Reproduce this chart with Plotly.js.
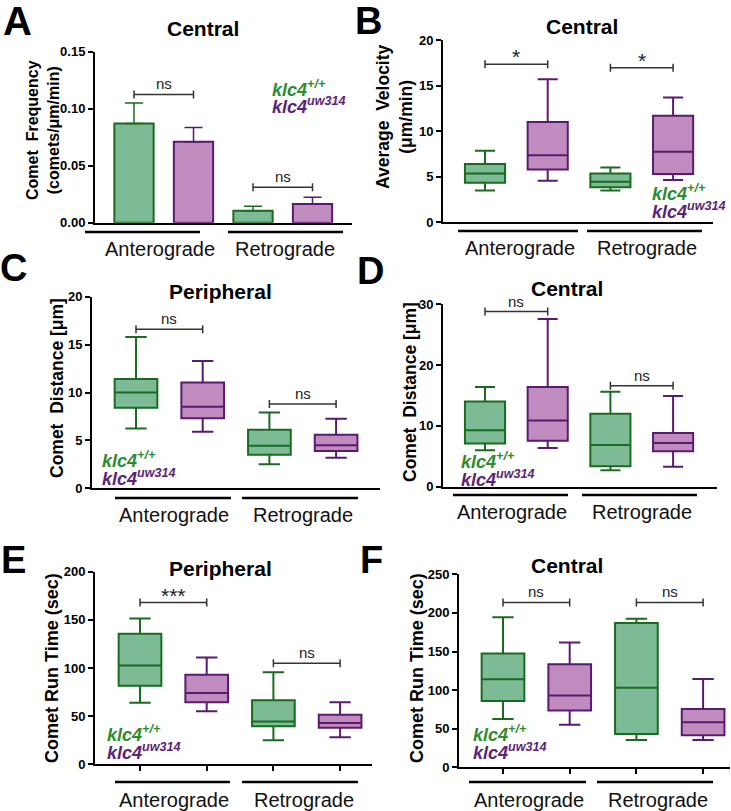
<!DOCTYPE html>
<html lang="en">
<head>
<meta charset="UTF-8">
<title>klc4 comet analysis</title>
<script src="https://cdn.plot.ly/plotly-3.0.1.min.js"></script>
<style>
  body { margin: 0; background: #fff; }
  #fig { width: 731px; height: 811px; }
</style>
</head>
<body>
<div id="fig"></div>
<script>
const W = 731, H = 811;
const FONT = 'Liberation Sans, Arial, Helvetica, sans-serif';
const GREEN = '#1a6b1f', GREEN_FILL = '#7dba96';
const PURPLE = '#5b1a6e', PURPLE_FILL = '#c08bbf';
const LEG_GREEN = '#2e8b2e', LEG_PURPLE = '#5c2474';

const groups = ['Anterograde', 'Retrograde'];
const wtPos = [0, 2];
const mutPos = [1, 3];

// A: central comet frequency, mean and SEM (anterograde, retrograde)
const freqWT = [0.087, 0.0105];
const freqWTsem = [0.018, 0.004];
const freqMut = [0.071, 0.0165];
const freqMutSem = [0.0125, 0.0058];

// box stats [min, q1, median, q3, max] for anterograde / retrograde
const velWT = [[3.5, 4.35, 5.35, 6.4, 7.85], [3.5, 3.85, 4.45, 5.35, 6.0]];
const velMut = [[4.55, 5.8, 7.35, 11.0, 15.7], [4.65, 5.3, 7.75, 11.7, 13.7]];

const distPeriWT = [[6.25, 8.4, 10.0, 11.4, 15.8], [2.5, 3.5, 4.45, 6.1, 7.9]];
const distPeriMut = [[5.9, 7.3, 8.5, 11.05, 13.3], [3.2, 3.9, 4.5, 5.6, 7.25]];

const distCentWT = [[6.0, 7.1, 9.3, 14.0, 16.4], [2.7, 3.35, 6.85, 12.0, 15.6]];
const distCentMut = [[6.35, 7.55, 10.9, 16.4, 27.6], [3.3, 5.85, 7.2, 8.85, 14.9]];

const runPeriWT = [[64, 81.5, 102.5, 135.5, 151.5], [25, 39.5, 44.5, 66.5, 95.5]];
const runPeriMut = [[55, 64.5, 74, 93, 111], [28, 38, 43, 51.5, 64.5]];

const runCentWT = [[62.5, 86, 114, 147.5, 194.5], [35.5, 43, 103, 187, 192.5]];
const runCentMut = [[55, 73.5, 93, 133.5, 161.5], [35.5, 41.5, 58.5, 75.5, 114.5]];

// significance brackets [from, to, height, label]
const sigA = [[0, 1, 0.1125, 'ns'], [2, 3, 0.031, 'ns']];
const sigB = [[0, 1, 17.35, '*'], [2, 3, 16.95, '*']];
const sigC = [[0, 1, 16.6, 'ns'], [2, 3, 8.8, 'ns']];
const sigD = [[0, 1, 28.8, 'ns'], [2, 3, 16.6, 'ns']];
const sigE = [[0, 1, 168, '***'], [2, 3, 105, 'ns']];
const sigF = [[0, 1, 213.5, 'ns'], [2, 3, 213.5, 'ns']];

// panel placement in pixels
const panels = [
  {letter: 'A', lx: 17, ly: 21, lsize: 40, title: 'Central', tx: 203, ty: 28,
   L: 95, R: 352, top: 51.7, bot: 222.7, c0: 134, s: 59.5, ymax: 0.15, dtick: 0.05, fmt: '.2f',
   ytitle: 'Comet  Frequency<br>(comets/μm/min)', ytx: 43, yty: 130, ytsize: 16,
   legx: 270, legy: 88, sig: sigA, xticks: false,
   lines: [[85, 200], [228, 343]], liney: 232, labs: [160, 285], laby: 249},
  {letter: 'B', lx: 368, ly: 21, lsize: 38, title: 'Central', tx: 582, ty: 27,
   L: 443, R: 713, top: 40, bot: 222.3, c0: 485, s: 62.7, ymax: 20, dtick: 5, fmt: '',
   ytitle: 'Average  Velocity<br>(μm/min)', ytx: 395, yty: 117, ytsize: 17.5,
   legx: 650, legy: 192, sig: sigB, xticks: false,
   lines: [[458, 578], [587, 702]], liney: 231, labs: [520, 647], laby: 248},
  {letter: 'C', lx: 13, ly: 268, lsize: 38, title: 'Peripheral', tx: 220, ty: 292,
   L: 92, R: 380, top: 296.7, bot: 488.3, c0: 136, s: 66.7, ymax: 20, dtick: 5, fmt: '',
   ytitle: 'Comet  Distance [μm]', ytx: 57, yty: 388, ytsize: 17.5,
   legx: 100, legy: 459, sig: sigC, xticks: false,
   lines: [[115, 231], [242, 358]], liney: 498, labs: [174, 303], laby: 515},
  {letter: 'D', lx: 370, ly: 271, lsize: 38, title: 'Central', tx: 567, ty: 288,
   L: 443, R: 717, top: 304.3, bot: 486.7, c0: 485, s: 62.7, ymax: 30, dtick: 10, fmt: '',
   ytitle: 'Comet  Distance [μm]', ytx: 410, yty: 392, ytsize: 17.5,
   legx: 459, legy: 460, sig: sigD, xticks: false,
   lines: [[453, 568], [582, 697]], liney: 495, labs: [512, 642], laby: 512},
  {letter: 'E', lx: 13, ly: 560, lsize: 38, title: 'Peripheral', tx: 220, ty: 568,
   L: 95, R: 372, top: 571.7, bot: 764.3, c0: 140, s: 66.7, ymax: 200, dtick: 50, fmt: '',
   ytitle: 'Comet Run Time (sec)', ytx: 52, yty: 668, ytsize: 18,
   legx: 105, legy: 733, sig: sigE, xticks: true,
   lines: [[115, 230], [242, 358]], liney: 782, labs: [174, 304], laby: 800},
  {letter: 'F', lx: 371, ly: 560, lsize: 38, title: 'Central', tx: 567, ty: 565,
   L: 459, R: 730, top: 574.3, bot: 767.3, c0: 503, s: 66.7, ymax: 250, dtick: 50, fmt: '',
   ytitle: 'Comet Run Time (sec)', ytx: 417, yty: 668, ytsize: 18,
   legx: 471, legy: 733, sig: sigF, xticks: true,
   lines: [[469, 586], [597, 713]], liney: 782, labs: [529, 658], laby: 800}
];

const boxSets = [null, [velWT, velMut], [distPeriWT, distPeriMut],
  [distCentWT, distCentMut], [runPeriWT, runPeriMut], [runCentWT, runCentMut]];

const px = x => x / W;
const py = y => 1 - y / H;

function boxTrace(stats, pos, line, fill, n) {
  return {
    type: 'box', x: pos,
    lowerfence: stats.map(d => d[0]), q1: stats.map(d => d[1]),
    median: stats.map(d => d[2]), q3: stats.map(d => d[3]),
    upperfence: stats.map(d => d[4]),
    width: 0.64, whiskerwidth: 0.5, boxpoints: false,
    line: {color: line, width: 2}, fillcolor: fill,
    xaxis: 'x' + n, yaxis: 'y' + n, showlegend: false, hoverinfo: 'skip'
  };
}

const data = [];
const layout = {
  width: W, height: H, margin: {l: 0, r: 0, t: 0, b: 0},
  paper_bgcolor: '#fff', plot_bgcolor: 'rgba(0,0,0,0)',
  barmode: 'overlay', showlegend: false,
  font: {family: FONT, color: '#000'},
  annotations: [], shapes: []
};

// panel A bars
data.push({
  type: 'bar', x: wtPos, y: freqWT, width: 0.66,
  marker: {color: GREEN_FILL, line: {color: GREEN, width: 2}},
  error_y: {type: 'data', symmetric: false, array: freqWTsem, arrayminus: [0, 0],
            color: GREEN, thickness: 1.5, width: 9},
  xaxis: 'x', yaxis: 'y', hoverinfo: 'skip'
});
data.push({
  type: 'bar', x: mutPos, y: freqMut, width: 0.66,
  marker: {color: PURPLE_FILL, line: {color: PURPLE, width: 2}},
  error_y: {type: 'data', symmetric: false, array: freqMutSem, arrayminus: [0, 0],
            color: PURPLE, thickness: 1.5, width: 9},
  xaxis: 'x', yaxis: 'y', hoverinfo: 'skip'
});

panels.forEach((p, i) => {
  const n = i === 0 ? '' : String(i + 1);
  const xa = 'xaxis' + n, ya = 'yaxis' + n;
  const xr = 'x' + n, yr = 'y' + n;

  if (boxSets[i]) {
    data.push(boxTrace(boxSets[i][0], wtPos, GREEN, GREEN_FILL, n));
    data.push(boxTrace(boxSets[i][1], mutPos, PURPLE, PURPLE_FILL, n));
  }

  layout[xa] = {
    domain: [px(p.L), px(p.R)], anchor: yr,
    range: [(p.L - p.c0) / p.s, (p.R - p.c0) / p.s],
    showline: true, linecolor: '#000', linewidth: 2,
    showgrid: false, zeroline: false, showticklabels: false,
    ticks: p.xticks ? 'outside' : '', tickvals: [0, 1, 2, 3],
    ticklen: 5, tickwidth: 2, tickcolor: '#000', fixedrange: true
  };
  layout[ya] = {
    domain: [py(p.bot), py(p.top)], anchor: xr,
    range: [0, p.ymax], dtick: p.dtick, tick0: 0, tickformat: p.fmt,
    showline: true, linecolor: '#000', linewidth: 2,
    showgrid: false, zeroline: false,
    ticks: 'outside', ticklen: 5, tickwidth: 2, tickcolor: '#000',
    tickfont: {family: FONT, size: 13, color: '#000', weight: 'bold'},
    fixedrange: true
  };

  const A = layout.annotations, S = layout.shapes;
  // panel letter
  A.push({text: '<b>' + p.letter + '</b>', xref: 'paper', yref: 'paper',
    x: px(p.lx), y: py(p.ly), xanchor: 'center', yanchor: 'middle',
    showarrow: false, font: {family: FONT, size: p.lsize, color: '#000'}});
  // panel title
  A.push({text: '<b>' + p.title + '</b>', xref: 'paper', yref: 'paper',
    x: px(p.tx), y: py(p.ty), xanchor: 'center', yanchor: 'middle',
    showarrow: false, font: {family: FONT, size: 21, color: '#000'}});
  // y-axis title
  A.push({text: '<b>' + p.ytitle + '</b>', xref: 'paper', yref: 'paper',
    x: px(p.ytx), y: py(p.yty), xanchor: 'center', yanchor: 'middle',
    textangle: -90, showarrow: false,
    font: {family: FONT, size: p.ytsize, color: '#000'}});
  // genotype key
  A.push({text: '<b><i>klc4<sup>+/+</sup></i></b>', xref: 'paper', yref: 'paper',
    x: px(p.legx), y: py(p.legy), xanchor: 'left', yanchor: 'middle',
    showarrow: false, font: {family: FONT, size: 18, color: LEG_GREEN}});
  A.push({text: '<b><i>klc4<sup>uw314</sup></i></b>', xref: 'paper', yref: 'paper',
    x: px(p.legx), y: py(p.legy + 18), xanchor: 'left', yanchor: 'middle',
    showarrow: false, font: {family: FONT, size: 18, color: LEG_PURPLE}});
  // direction group labels and underlines
  groups.forEach((g, k) => {
    S.push({type: 'line', xref: 'paper', yref: 'paper',
      x0: px(p.lines[k][0]), x1: px(p.lines[k][1]), y0: py(p.liney), y1: py(p.liney),
      line: {color: '#000', width: 2.5}});
    A.push({text: g, xref: 'paper', yref: 'paper',
      x: px(p.labs[k]), y: py(p.laby), xanchor: 'center', yanchor: 'middle',
      showarrow: false, font: {family: FONT, size: 20, color: '#111'}});
  });
  // significance brackets
  p.sig.forEach(b => {
    const [x0, x1, y, lab] = b;
    S.push({type: 'line', xref: xr, yref: yr, x0: x0, x1: x1, y0: y, y1: y,
      line: {color: '#333', width: 1.5}});
    [x0, x1].forEach(xe => S.push({type: 'line', xref: xr, yref: yr,
      x0: xe, x1: xe, ysizemode: 'pixel', yanchor: y, y0: -4, y1: 4,
      line: {color: '#333', width: 1.5}}));
    A.push({text: lab, xref: xr, yref: yr, x: (x0 + x1) / 2, y: y,
      xanchor: 'center', yanchor: 'bottom', yshift: lab === 'ns' ? 0 : -6,
      showarrow: false,
      font: {family: FONT, size: lab === 'ns' ? 15 : 21, color: '#222'}});
  });
});

Plotly.newPlot('fig', data, layout, {displayModeBar: false, staticPlot: true});
</script>
</body>
</html>
